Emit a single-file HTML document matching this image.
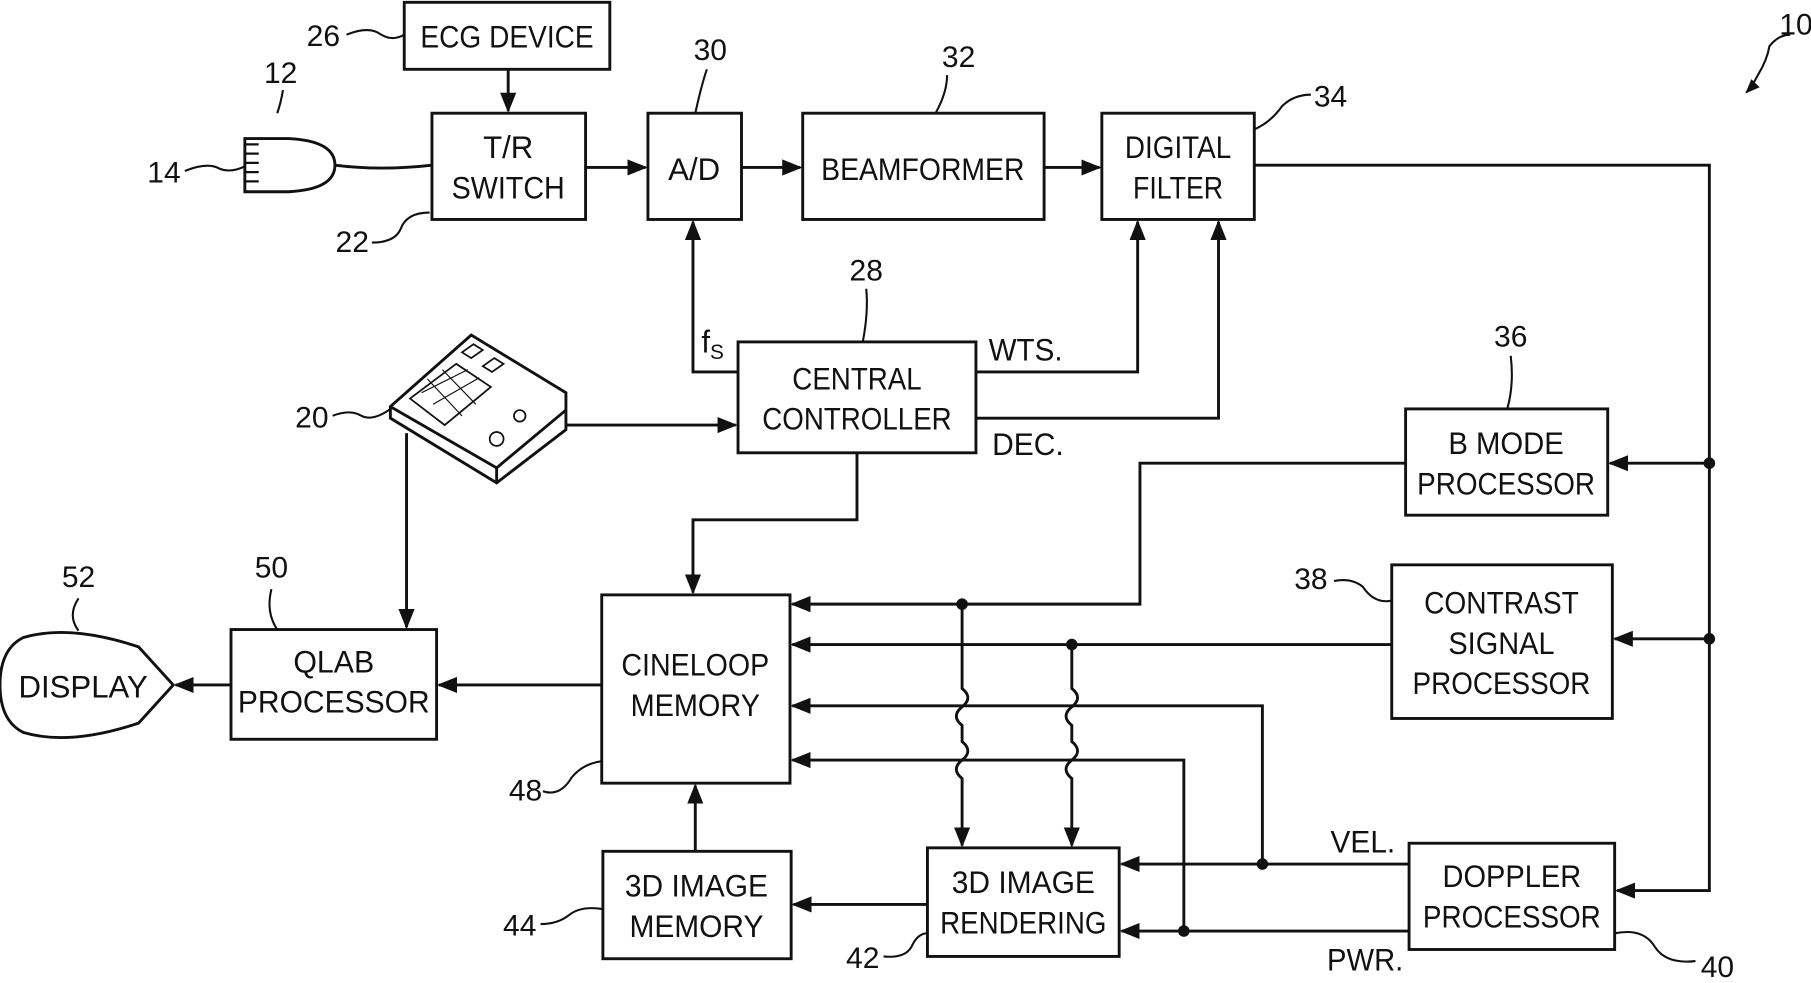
<!DOCTYPE html>
<html><head><meta charset="utf-8"><style>
html,body{margin:0;padding:0;background:#fff;}
svg{display:block}
text{font-family:"Liberation Sans",Arial,sans-serif;fill:#111;font-size:27px;text-anchor:middle}
.n{font-size:26px}
</style></head><body>
<svg width="1811" height="983" viewBox="0 0 1568 851" preserveAspectRatio="none" xmlns="http://www.w3.org/2000/svg">
<defs><marker id="a" viewBox="0 0 10 10" refX="9" refY="5" markerWidth="7" markerHeight="7" orient="auto-start-reverse"><path d="M0,1 L10,5 L0,9 z" fill="#111"/></marker></defs>
<g fill="none" stroke="#111" stroke-width="2.5">
<rect x="350" y="2" width="178" height="58"/>
<rect x="374" y="98" width="133" height="92"/>
<rect x="561" y="98" width="81" height="92"/>
<rect x="695" y="98" width="209" height="92"/>
<rect x="954" y="98" width="132" height="92"/>
<rect x="639" y="296" width="206" height="96"/>
<rect x="1217" y="354" width="175" height="92"/>
<rect x="1205" y="489" width="191" height="133"/>
<rect x="521" y="515" width="163" height="163"/>
<rect x="200" y="545" width="178" height="95"/>
<rect x="522" y="737" width="163" height="93"/>
<rect x="803" y="734" width="166" height="94"/>
<rect x="1220" y="730" width="178" height="92"/>
<path d="M150,593 L120,560 Q60,540 20,552 Q0,562 0,593 Q0,624 20,634 Q60,646 120,626 Z"/>
<path d="M212,120 L250,120 Q290,122 290,143 Q290,164 250,166 L212,166 Z"/>
<path d="M212,125 h12 M212,133 h12 M212,141 h12 M212,149 h12 M212,157 h12" stroke-width="2"/>
<path d="M290,143 Q330,148 374,143"/>
<path d="M338,352 L408,290 L490,340 L490,372 L430,418 L338,362 Z"/>
<path d="M338,352 L430,405 L490,355 M430,405 L430,418"/>
<path d="M355,345 L395,315 L425,335 L385,368 Z" stroke-width="1.5"/>
<path d="M365,340 L405,320 M375,350 L415,327 M370,328 L400,360 M383,320 L412,350" stroke-width="1"/>
<circle cx="430" cy="380" r="6" stroke-width="1.5"/><circle cx="450" cy="360" r="5" stroke-width="1.5"/>
<path d="M400,305 l10,-7 l8,5 l-10,7 z M418,317 l10,-7 l8,5 l-10,7z" stroke-width="1.5"/>
<g marker-end="url(#a)">
<path d="M440,60 V96"/>
<path d="M507,145 H559"/>
<path d="M642,145 H693"/>
<path d="M904,145 H952"/>
<path d="M639,322 H600 V192"/>
<path d="M845,322 H985 V192"/>
<path d="M845,362 H1055 V192"/>
<path d="M490,368 H637"/>
<path d="M352,375 V543"/>
<path d="M742,392 V450 H600 V513"/>
<path d="M1086,143 H1480 V771 H1400"/>
<path d="M1480,401 H1394"/>
<path d="M1480,553 H1398"/>
<path d="M1217,401 H987 V523 H686"/>
<path d="M1205,558 H686"/>
<path d="M1220,748 H971"/>
<path d="M1093,748 V611 H686"/>
<path d="M1220,806 H971"/>
<path d="M1025,806 V658 H686"/>
<path d="M833,523 V596 q10,8 0,16 q-10,8 0,16 V642 q10,8 0,16 q-10,8 0,16 V732"/>
<path d="M928,558 V596 q10,8 0,16 q-10,8 0,16 V642 q10,8 0,16 q-10,8 0,16 V732"/>
<path d="M803,783 H687"/>
<path d="M602,737 V680"/>
<path d="M521,593 H380"/>
<path d="M200,593 H152"/>
</g>
<path d="M300,30 q20,-8 30,0 q10,6 20,0" stroke-width="1.8"/>
<path d="M245,78 q-2,12 -5,20" stroke-width="1.8"/>
<path d="M160,148 q20,-8 30,-2 q10,4 22,-2" stroke-width="1.8"/>
<path d="M322,210 q20,0 25,-12 q5,-14 25,-14" stroke-width="1.8"/>
<path d="M612,60 q-5,15 -10,38" stroke-width="1.8"/>
<path d="M820,65 q0,15 -10,33" stroke-width="1.8"/>
<path d="M1135,82 q-15,0 -25,10 q-10,14 -24,20" stroke-width="1.8"/>
<path d="M750,250 q2,20 -3,46" stroke-width="1.8"/>
<path d="M288,360 q15,-6 25,0 q10,5 25,-6" stroke-width="1.8"/>
<path d="M1308,308 q3,25 -3,46" stroke-width="1.8"/>
<path d="M1155,503 q15,-3 25,5 q10,15 25,12" stroke-width="1.8"/>
<path d="M235,510 q-5,20 5,35" stroke-width="1.8"/>
<path d="M68,518 q-10,15 0,28" stroke-width="1.8"/>
<path d="M470,685 q15,5 25,-12 q10,-12 26,-14" stroke-width="1.8"/>
<path d="M468,800 q15,0 25,-8 q10,-8 29,-5" stroke-width="1.8"/>
<path d="M765,828 q20,2 25,-10 q5,-10 13,-10" stroke-width="1.8"/>
<path d="M1398,808 q25,-5 35,12 q10,15 35,12" stroke-width="1.8"/>
<path d="M1550,30 q-10,0 -18,10 q-2,12 -10,25 q-5,10 -10,15" stroke-width="1.8" marker-end="url(#a)"/>
</g>
<g fill="#111">
<circle cx="1480" cy="401" r="5"/><circle cx="1480" cy="553" r="5"/>
<circle cx="833" cy="523" r="5"/><circle cx="928" cy="558" r="5"/>
<circle cx="1093" cy="748" r="5"/><circle cx="1025" cy="806" r="5"/>
</g>
<text x="439" y="41" textLength="150" lengthAdjust="spacingAndGlyphs">ECG DEVICE</text>
<text x="440" y="137">T/R</text><text x="440" y="172" textLength="98" lengthAdjust="spacingAndGlyphs">SWITCH</text>
<text x="601" y="156">A/D</text>
<text x="799" y="156" textLength="176" lengthAdjust="spacingAndGlyphs">BEAMFORMER</text>
<text x="1020" y="137" textLength="92" lengthAdjust="spacingAndGlyphs">DIGITAL</text><text x="1020" y="172" textLength="78" lengthAdjust="spacingAndGlyphs">FILTER</text>
<text x="742" y="337" textLength="112" lengthAdjust="spacingAndGlyphs">CENTRAL</text><text x="742" y="372" textLength="164" lengthAdjust="spacingAndGlyphs">CONTROLLER</text>
<text x="1304" y="393" textLength="100" lengthAdjust="spacingAndGlyphs">B MODE</text><text x="1304" y="428" textLength="154" lengthAdjust="spacingAndGlyphs">PROCESSOR</text>
<text x="1300" y="531" textLength="134" lengthAdjust="spacingAndGlyphs">CONTRAST</text><text x="1300" y="566" textLength="92" lengthAdjust="spacingAndGlyphs">SIGNAL</text><text x="1300" y="601" textLength="154" lengthAdjust="spacingAndGlyphs">PROCESSOR</text>
<text x="602" y="585" textLength="128" lengthAdjust="spacingAndGlyphs">CINELOOP</text><text x="602" y="620" textLength="112" lengthAdjust="spacingAndGlyphs">MEMORY</text>
<text x="289" y="582" textLength="70" lengthAdjust="spacingAndGlyphs">QLAB</text><text x="289" y="617" textLength="166" lengthAdjust="spacingAndGlyphs">PROCESSOR</text>
<text x="72" y="604" textLength="112" lengthAdjust="spacingAndGlyphs">DISPLAY</text>
<text x="603" y="776" textLength="124" lengthAdjust="spacingAndGlyphs">3D IMAGE</text><text x="603" y="811" textLength="116" lengthAdjust="spacingAndGlyphs">MEMORY</text>
<text x="886" y="773" textLength="124" lengthAdjust="spacingAndGlyphs">3D IMAGE</text><text x="886" y="808" textLength="144" lengthAdjust="spacingAndGlyphs">RENDERING</text>
<text x="1309" y="768" textLength="120" lengthAdjust="spacingAndGlyphs">DOPPLER</text><text x="1309" y="803" textLength="154" lengthAdjust="spacingAndGlyphs">PROCESSOR</text>
<text x="888" y="312" textLength="64" lengthAdjust="spacingAndGlyphs">WTS.</text>
<text x="890" y="394" textLength="62" lengthAdjust="spacingAndGlyphs">DEC.</text>
<text x="1180" y="738" textLength="56" lengthAdjust="spacingAndGlyphs">VEL.</text>
<text x="1182" y="840" textLength="66" lengthAdjust="spacingAndGlyphs">PWR.</text>
<text x="617" y="305">f<tspan font-size="18" dy="6">S</tspan></text>
<text class="n" x="280" y="40">26</text>
<text class="n" x="243" y="72">12</text>
<text class="n" x="142" y="158">14</text>
<text class="n" x="305" y="218">22</text>
<text class="n" x="615" y="52">30</text>
<text class="n" x="830" y="58">32</text>
<text class="n" x="1152" y="92">34</text>
<text class="n" x="750" y="243">28</text>
<text class="n" x="270" y="370">20</text>
<text class="n" x="1308" y="300">36</text>
<text class="n" x="1135" y="510">38</text>
<text class="n" x="235" y="500">50</text>
<text class="n" x="68" y="508">52</text>
<text class="n" x="455" y="693">48</text>
<text class="n" x="450" y="810">44</text>
<text class="n" x="747" y="838">42</text>
<text class="n" x="1487" y="846">40</text>
<text class="n" x="1555" y="30">10</text>
</svg>
</body></html>
